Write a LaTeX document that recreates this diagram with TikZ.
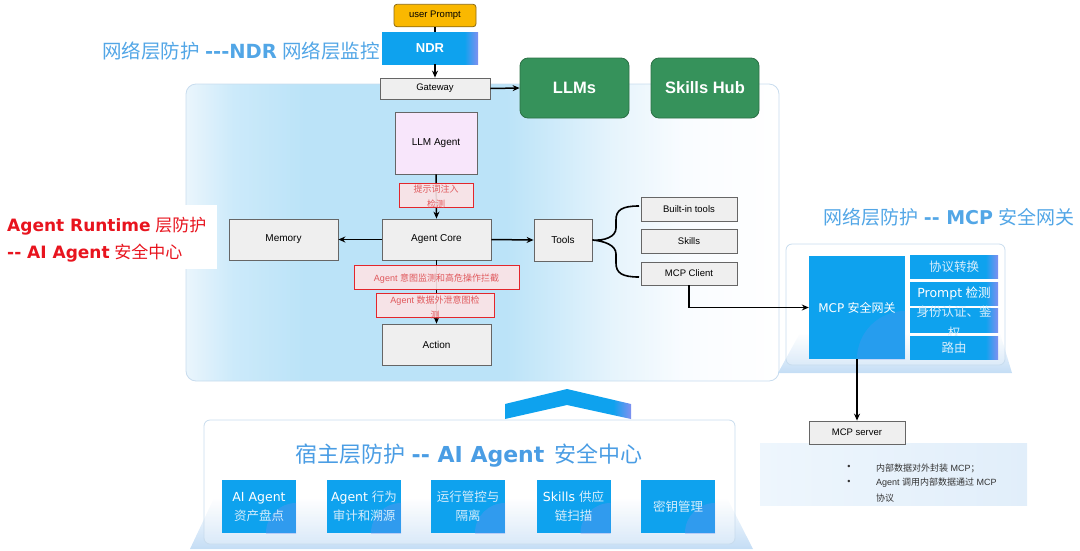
\documentclass[tikz,border=0pt]{standalone}
\usepackage{fontspec}
\setmainfont{Liberation Sans}
\newfontfamily\cjk{Noto Sans CJK SC}
\newfontfamily\dvs{DejaVu Sans}
\usetikzlibrary{arrows.meta,calc}

\definecolor{boxgray}{HTML}{EFEFEF}
\definecolor{edgegray}{HTML}{666666}
\definecolor{tblue}{HTML}{52A6E6}
\definecolor{hblue}{HTML}{4A9DE4}
\definecolor{bblue}{HTML}{0EA2EE}
\definecolor{bviolet}{HTML}{8090F0}
\definecolor{ggreen}{HTML}{36925B}
\definecolor{gedge}{HTML}{2B7045}
\definecolor{rred}{HTML}{E3262C}
\definecolor{rtext}{HTML}{E0585C}
\definecolor{rfill}{HTML}{FDE4E6}
\definecolor{lred}{HTML}{E8141E}
\definecolor{gold}{HTML}{FAB800}
\definecolor{goldedge}{HTML}{8C6A12}
\definecolor{lilac}{HTML}{F8E6FB}
\definecolor{pedge}{HTML}{C8DCEE}
\definecolor{p0}{HTML}{EAF5FC}
\definecolor{p1}{HTML}{CCEAFA}
\definecolor{p2}{HTML}{BBE3F8}
\definecolor{p3}{HTML}{E6F4FC}
\definecolor{p4}{HTML}{F9FCFF}
\definecolor{lightcjk}{HTML}{D6EDFC}
\definecolor{swirl}{HTML}{7090F0}
\definecolor{basecol}{HTML}{C4DDF5}
\definecolor{infol}{HTML}{EEF6FD}
\definecolor{infor}{HTML}{E1EEFA}
\definecolor{infotext}{HTML}{333333}

\pgfdeclarehorizontalshading{rtpanel}{100bp}{color(0bp)=(p0); color(25bp)=(p0); color(29bp)=(p1); color(35bp)=(p2); color(52bp)=(p2); color(61bp)=(p3); color(67bp)=(p4); color(75bp)=(white); color(100bp)=(white)}
\pgfdeclarehorizontalshading{bluev}{100bp}{color(0bp)=(bblue); color(68bp)=(bblue); color(75bp)=(bviolet); color(100bp)=(bviolet)}

\begin{document}
\begin{tikzpicture}[x=1pt,y=-1pt,
  bx/.style={draw=edgegray, fill=boxgray, line width=.8pt, inner sep=0pt, font=\fontsize{10}{11}\selectfont},
  gbox/.style={draw=gedge, fill=ggreen, rounded corners=8pt, line width=.8pt, text=white, inner sep=0pt, font=\fontsize{16.5}{18}\bfseries\selectfont, minimum height=60pt},
  rbox/.style={draw=rred, fill=rfill, fill opacity=.9, line width=.9pt, inner sep=0pt},
  rtxt/.style={text=rtext, font=\fontsize{9}{15}\selectfont, align=center, inner sep=0pt},
  arr/.style={line width=1.5pt, -{Stealth[length=7pt,width=6pt]}},
  conn/.style={line width=1.5pt},
  hostbox/.style={fill=bblue, inner sep=0pt, minimum width=74pt, minimum height=53pt, align=center, text=white,
    font=\dvs\fontsize{12.5}{19}\selectfont,
    path picture={\fill[swirl, opacity=.35] (path picture bounding box.south east) circle (30pt);}},
  colbox/.style={shade, shading=bluev, inner sep=0pt, minimum width=88pt, text=lightcjk, font=\fontsize{12.5}{18}\selectfont, align=center},
]
\useasboundingbox (0,0) rectangle (1080,550);

% ---------- runtime panel ----------
\shadedraw[shading=rtpanel, draw=pedge, line width=.8pt, rounded corners=10pt] (186,84) rectangle (779,381);

% left red label
\node[fill=white, anchor=north west, minimum width=217pt, minimum height=64pt, inner sep=0pt] (rtbg) at (0,205) {};
\node[anchor=west, text=lred, align=left, inner sep=0pt, font=\fontsize{17}{27}\selectfont] (rtlabel) at (7,240)
  {{\dvs\bfseries Agent Runtime} {\cjk 层防护}\\{\dvs\bfseries -\kern0pt- AI Agent} {\cjk 安全中心}};

% ---------- top ----------
\node[fill=gold, draw=goldedge, rounded corners=3pt, line width=.8pt, minimum width=82pt, minimum height=22.5pt, inner sep=0pt, font=\fontsize{9.5}{11}\selectfont] (up) at (435,15.5) {user Prompt};
\node[shade, shading=bluev, minimum width=96pt, minimum height=32pt, inner sep=0pt, text=white, font=\fontsize{13}{14}\bfseries\selectfont] (ndr) at (430,48) {NDR};
\node[bx, minimum width=110pt, minimum height=21pt, font=\fontsize{9.5}{11}\selectfont] (gw) at (435,88.5) {Gateway};
\draw[conn] (up.south) -- (up.south |- ndr.north);
\draw[arr] (ndr.south -| gw.north) -- (gw.north);

\node[text=tblue, font=\fontsize{19.5}{21}\selectfont, anchor=east, inner sep=0pt] (ndrtitle) at (380,51)
  {{\cjk 网络层防护} {\dvs\bfseries -\kern0pt-\kern0pt-NDR} {\cjk 网络层监控}};

\node[gbox, minimum width=109pt] (llms) at (574.5,88) {LLMs};
\node[gbox, minimum width=108pt] (hub) at (705,88) {Skills Hub};
\draw[arr] (gw.east) -- (llms.west);

% ---------- agent runtime ----------
\node[bx, fill=lilac, minimum width=82pt, minimum height=62pt] (llm) at (436,143) {LLM Agent};
\node[bx, minimum width=109pt, minimum height=41pt] (core) at (436.5,239.5) {Agent Core};
\node[bx, minimum width=109pt, minimum height=41pt] (mem) at (283.5,239.5) {Memory};
\node[bx, minimum width=58pt, minimum height=42pt] (tools) at (563,240) {Tools};
\node[bx, minimum width=109pt, minimum height=41pt] (act) at (436.5,344.5) {Action};
\node[bx, minimum width=96pt, minimum height=24pt, font=\fontsize{9.5}{11}\selectfont] (bit) at (689,209) {Built-in tools};
\node[bx, minimum width=96pt, minimum height=24pt, font=\fontsize{9.5}{11}\selectfont] (sk) at (689,241) {Skills};
\node[bx, minimum width=96pt, minimum height=23pt, font=\fontsize{9.5}{11}\selectfont] (mcpc) at (689,273.5) {MCP Client};

\draw[arr] (llm.south) -- (core.north);
\draw[arr] (core.west) -- (mem.east);
\draw[arr] (core.east) -- (tools.west);
\draw[arr] (core.south) -- (act.north);

% brace
\coordinate (bt) at (639,206);
\coordinate (bm) at (tools.east);
\coordinate (bb) at (639,277);
\draw[line width=1.6pt] (bt) .. controls (622,206) and (616,210) .. (616,220) -- (616,228)
  .. controls (616,237) and (604,241) .. (bm)
  .. controls (604,241) and (616,245) .. (616,254) -- (616,263)
  .. controls (616,273) and (622,277) .. (bb);

% red detection boxes
\node[rbox, minimum width=74pt, minimum height=24pt] (r1) at (436,195) {};
\node[rtxt] (r1t) at (436,197) {{\cjk 提示词注入}\\{\cjk 检测}};
\node[rbox, minimum width=165pt, minimum height=24pt] (r2) at (436.5,277) {};
\node[rtxt] (r2t) at (436.5,278.5) {Agent {\cjk 意图监测和高危操作拦截}};
\node[rbox, minimum width=118pt, minimum height=24pt] (r3) at (435,305) {};
\node[rtxt] (r3t) at (435,307.5) {Agent {\cjk 数据外泄意图检}\\{\cjk 测}};

% ---------- MCP gateway ----------
\node[text=tblue, font=\fontsize{19}{20}\selectfont, inner sep=0pt] (mcptitle) at (949,217)
  {{\cjk 网络层防护} {\dvs\bfseries -\kern0pt- MCP} {\cjk 安全网关}};
\shade[top color=white, bottom color=basecol] (800,333) -- (1000,333) -- (1012,373) -- (778,373) -- cycle;
\draw[draw=pedge, line width=.8pt, rounded corners=6pt, fill=white, fill opacity=.25] (786,244) rectangle (1005,365);
\node[fill=bblue, minimum width=96pt, minimum height=103pt, inner sep=0pt, text=white, font=\fontsize{12}{14}\selectfont,
  path picture={\fill[swirl, opacity=.25] (path picture bounding box.south east) circle (48pt);}] (mcpgw) at (857,307.5)
  {{\dvs MCP} {\cjk 安全网关}};
\node[colbox, minimum height=23pt] (proto) at (954,267) {\cjk 协议转换};
\node[colbox, minimum height=23pt, text=white] (pdet) at (954,293.5) {{\dvs Prompt} {\cjk 检测}};
\node[colbox, minimum height=24pt] (auth) at (954,320) {};
\node[text=lightcjk, font=\fontsize{12.5}{21}\selectfont, align=center, inner sep=0pt] (autht) at (954,322) {{\cjk 身份认证、鉴}\\{\cjk 权}};
\node[colbox, minimum height=23pt] (route) at (954,347.5) {\cjk 路由};

\draw[conn, -{Stealth[length=7pt,width=6pt]}] (mcpc.south) |- (mcpgw.west);

% MCP server + info
\shade[left color=infol, right color=infor] (760,443) rectangle (1027,505);
\node[bx, minimum width=96pt, minimum height=23pt, font=\fontsize{9.5}{11}\selectfont] (mcps) at (857,432.5) {MCP server};
\draw[arr] (mcpgw.south) -- (mcps.north);
\node[text=infotext, font=\fontsize{9}{11}\selectfont, inner sep=0pt] (b1) at (849,467) {•};
\node[text=infotext, font=\fontsize{9}{11}\selectfont, inner sep=0pt] (b2) at (849,482) {•};
\node[text=infotext, font=\fontsize{9}{11}\selectfont, inner sep=0pt, anchor=west] (i1) at (876,468) {{\cjk 内部数据对外封装} MCP{\cjk ；}};
\node[text=infotext, font=\fontsize{9}{11}\selectfont, inner sep=0pt, anchor=west] (i2) at (876,483) {Agent {\cjk 调用内部数据通过} MCP};
\node[text=infotext, font=\fontsize{9}{11}\selectfont, inner sep=0pt, anchor=west] (i3) at (876,498) {\cjk 协议};

% ---------- host layer ----------
\shade[shading=bluev] (505,404) -- (567,389) -- (631,404) -- (631,419) -- (567,405) -- (505,419) -- cycle;
\shade[top color=white, bottom color=basecol] (214,498) -- (727,498) -- (753,549) -- (190,549) -- cycle;
\draw[draw=pedge, line width=.8pt, rounded corners=6pt, fill=white, fill opacity=.3] (204,420) rectangle (735,544);
\node[text=hblue, font=\fontsize{22}{24}\selectfont, inner sep=0pt] (hosttitle) at (469,456)
  {{\cjk 宿主层防护} {\dvs\bfseries -\kern0pt- AI Agent}\hspace{10pt}{\cjk 安全中心}};

\node[hostbox] (h1) at (259,506.5) {AI Agent\\{\cjk\color{lightcjk} 资产盘点}};
\node[hostbox] (h2) at (364,506.5) {Agent {\cjk\color{lightcjk} 行为}\\{\cjk\color{lightcjk} 审计和溯源}};
\node[hostbox] (h3) at (468,506.5) {{\cjk\color{lightcjk} 运行管控与}\\{\cjk\color{lightcjk} 隔离}};
\node[hostbox] (h4) at (573.5,506.5) {Skills {\cjk\color{lightcjk} 供应}\\{\cjk\color{lightcjk} 链扫描}};
\node[hostbox] (h5) at (678,506.5) {\cjk\color{lightcjk} 密钥管理};
\end{tikzpicture}
\end{document}
